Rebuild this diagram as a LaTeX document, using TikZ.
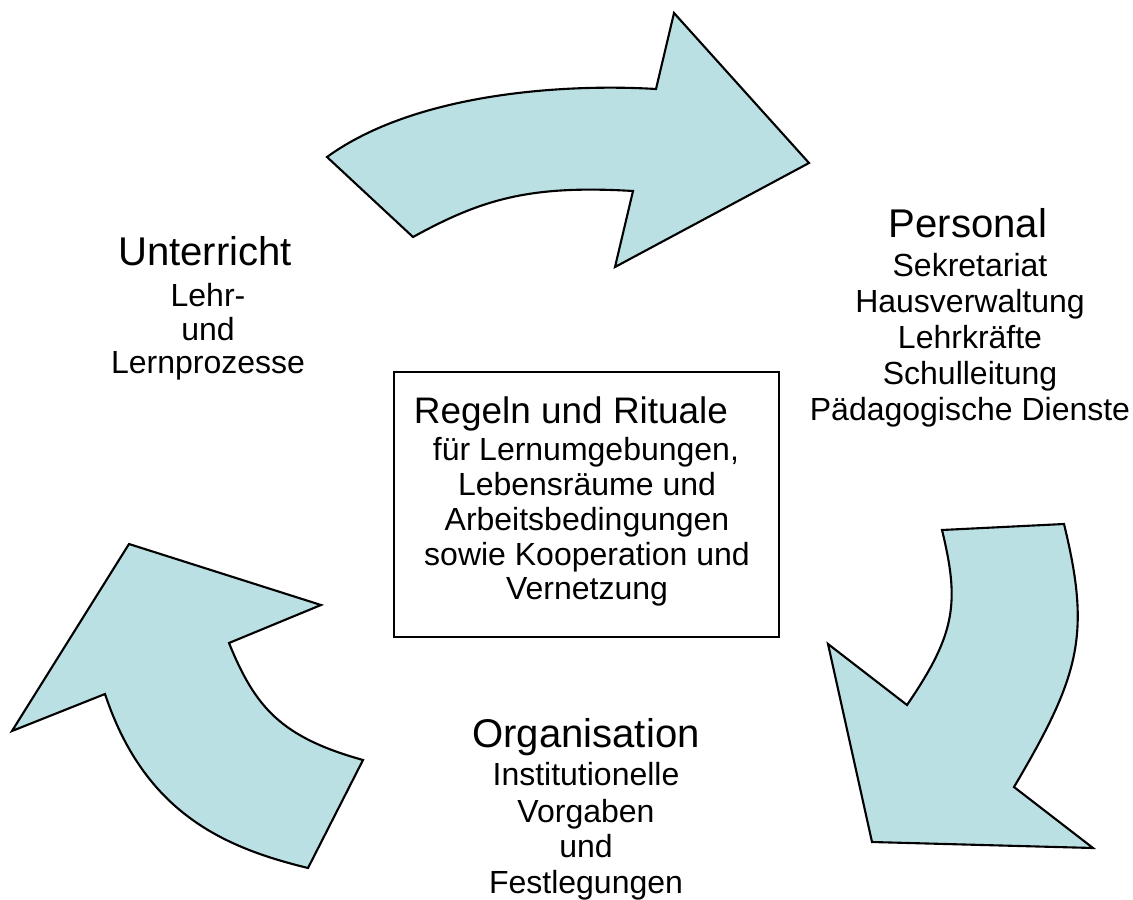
\documentclass[tikz,border=0pt]{standalone}
\usepackage{fontspec}
\setmainfont{Liberation Sans}
\definecolor{arrowfill}{RGB}{187,224,227}
\begin{document}
\begin{tikzpicture}[x=0.01cm,y=-0.01cm,
  shp/.style={fill=arrowfill, draw=black, line width=0.6pt, line join=miter},
  big/.style={anchor=base, inner sep=0pt, font=\fontsize{11.4}{13}\selectfont},
  rgl/.style={anchor=base, inner sep=0pt, font=\fontsize{10.5}{12}\selectfont},
  sml/.style={anchor=base, inner sep=0pt, font=\fontsize{9.1}{10}\selectfont},
  boxst/.style={draw=black, line width=0.55pt}]
\useasboundingbox (0,0) rectangle (1133,900);

% top arrow
\filldraw[shp] (327,157) .. controls (415,93) and (564,83.5) .. (656,89)
  -- (674,13) -- (809,163) -- (615,267) -- (633,191)
  .. controls (529.7,184.8) and (481.6,199.3) .. (413,237) -- cycle;

% right arrow
\filldraw[shp] (942,530) -- (1064,524)
  .. controls (1091,634.7) and (1080.2,675) .. (1014,787)
  -- (1093,848) -- (872,842) -- (828,644) -- (907,705)
  .. controls (955.9,633.6) and (959.7,602.7) .. (942,530) -- cycle;

% left arrow
\filldraw[shp] (308,868) -- (363,760)
  .. controls (280.8,737.1) and (255.2,707.3) .. (229,643)
  -- (321,605) -- (129,544) -- (12,731) -- (105,694)
  .. controls (144.7,813.2) and (224.3,847.6) .. (308,868) -- cycle;

% central box
\draw[boxst] (394,372) rectangle (779,637);
\node[rgl] (r0) at (571,423) {Regeln und Rituale};
\node[sml] (r1) at (586,460) {für Lernumgebungen,};
\node[sml] (r2) at (587,495) {Lebensräume und};
\node[sml] (r3) at (587,530) {Arbeitsbedingungen};
\node[sml] (r4) at (587,565) {sowie Kooperation und};
\node[sml] (r5) at (587,599) {Vernetzung};

% Unterricht
\node[big] (u0) at (205,265) {Unterricht};
\node[sml] (u1) at (208,306) {Lehr-};
\node[sml] (u2) at (208,340) {und};
\node[sml] (u3) at (208,373) {Lernprozesse};

% Personal
\node[big] (p0) at (968,237) {Personal};
\node[sml] (p1) at (970,276) {Sekretariat};
\node[sml] (p2) at (970,312) {Hausverwaltung};
\node[sml] (p3) at (970,348) {Lehrkräfte};
\node[sml] (p4) at (970,384) {Schulleitung};
\node[sml] (p5) at (970,420) {Pädagogische Dienste};

% Organisation
\node[big] (o0) at (586,747) {Organisation};
\node[sml] (o1) at (586,785) {Institutionelle};
\node[sml] (o2) at (586,822) {Vorgaben};
\node[sml] (o3) at (586,857) {und};
\node[sml] (o4) at (586,893) {Festlegungen};
\end{tikzpicture}
\end{document}
